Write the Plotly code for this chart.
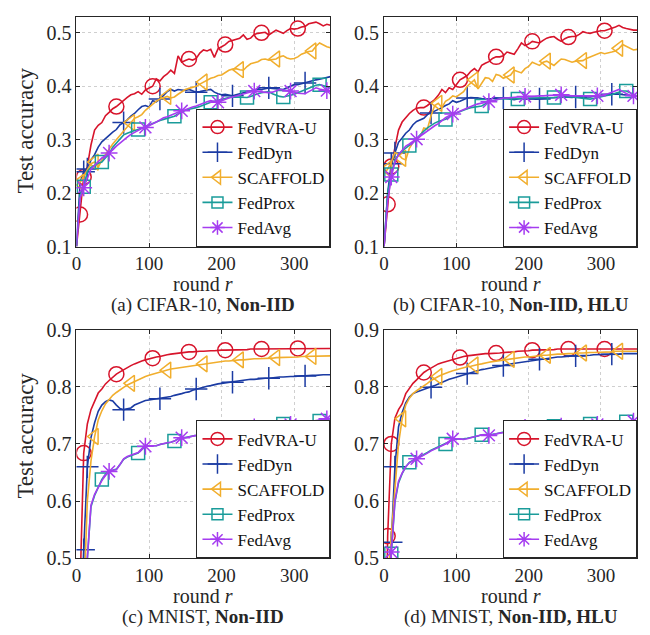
import plotly.graph_objects as go

# ---------------------------------------------------------------- data
rounds = list(range(0, 351, 5))
methods = ["FedVRA-U", "FedDyn", "SCAFFOLD", "FedProx", "FedAvg"]

# (a) CIFAR-10, Non-IID
a_fedvra_u = [0.100, 0.160, 0.230, 0.250, 0.290, 0.318, 0.327, 0.332, 0.345, 0.351,
              0.358, 0.362, 0.368, 0.373, 0.379, 0.384, 0.386, 0.390, 0.385, 0.393,
              0.397, 0.400, 0.414, 0.410, 0.418, 0.423, 0.430, 0.424, 0.457, 0.445,
              0.448, 0.451, 0.449, 0.452, 0.462, 0.468, 0.466, 0.469, 0.454, 0.470,
              0.474, 0.478, 0.484, 0.486, 0.487, 0.490, 0.496, 0.488, 0.490, 0.497,
              0.499, 0.500, 0.501, 0.496, 0.500, 0.505, 0.502, 0.499, 0.504, 0.508,
              0.507, 0.508, 0.511, 0.512, 0.517, 0.518, 0.520, 0.517, 0.513, 0.516,
              0.514]
a_feddyn = [0.100, 0.220, 0.240, 0.245, 0.262, 0.272, 0.286, 0.296, 0.302, 0.309,
            0.314, 0.319, 0.328, 0.332, 0.337, 0.344, 0.349, 0.356, 0.362, 0.364,
            0.361, 0.373, 0.371, 0.376, 0.384, 0.390, 0.394, 0.391, 0.394, 0.393,
            0.392, 0.394, 0.391, 0.389, 0.390, 0.392, 0.393, 0.394, 0.389, 0.386,
            0.384, 0.385, 0.383, 0.382, 0.384, 0.386, 0.388, 0.390, 0.392, 0.394,
            0.395, 0.394, 0.396, 0.397, 0.396, 0.395, 0.394, 0.394, 0.397, 0.400,
            0.403, 0.403, 0.405, 0.406, 0.408, 0.410, 0.412, 0.413, 0.415, 0.416,
            0.418]
a_scaffold = [0.215, 0.220, 0.232, 0.245, 0.255, 0.258, 0.248, 0.262, 0.273, 0.282,
              0.292, 0.300, 0.310, 0.318, 0.325, 0.332, 0.340, 0.343, 0.347, 0.355,
              0.361, 0.367, 0.372, 0.376, 0.379, 0.381, 0.378, 0.380, 0.385, 0.390,
              0.394, 0.396, 0.398, 0.400, 0.404, 0.408, 0.412, 0.415, 0.417, 0.420,
              0.421, 0.425, 0.430, 0.432, 0.433, 0.431, 0.430, 0.437, 0.442, 0.444,
              0.446, 0.450, 0.451, 0.449, 0.450, 0.451, 0.455, 0.457, 0.453, 0.451,
              0.452, 0.455, 0.460, 0.463, 0.465, 0.466, 0.475, 0.481, 0.477, 0.474,
              0.472]
a_fedprox = [0.100, 0.200, 0.212, 0.240, 0.248, 0.252, 0.256, 0.258, 0.266, 0.274,
             0.286, 0.294, 0.302, 0.309, 0.312, 0.315, 0.317, 0.319, 0.322, 0.325,
             0.327, 0.330, 0.333, 0.336, 0.338, 0.340, 0.342, 0.344, 0.348, 0.352,
             0.355, 0.357, 0.358, 0.360, 0.362, 0.365, 0.368, 0.370, 0.372, 0.374,
             0.376, 0.377, 0.379, 0.380, 0.380, 0.379, 0.379, 0.379, 0.381, 0.384,
             0.386, 0.388, 0.389, 0.390, 0.386, 0.383, 0.381, 0.380, 0.381, 0.383,
             0.385, 0.388, 0.390, 0.393, 0.396, 0.399, 0.402, 0.403, 0.401, 0.399,
             0.397]
a_fedavg = [0.100, 0.190, 0.210, 0.228, 0.245, 0.252, 0.260, 0.266, 0.270, 0.275,
            0.281, 0.288, 0.294, 0.299, 0.305, 0.310, 0.314, 0.318, 0.321, 0.323,
            0.326, 0.330, 0.333, 0.337, 0.341, 0.343, 0.346, 0.349, 0.352, 0.354,
            0.356, 0.359, 0.361, 0.363, 0.366, 0.368, 0.371, 0.373, 0.372, 0.370,
            0.373, 0.376, 0.378, 0.380, 0.382, 0.384, 0.386, 0.387, 0.389, 0.391,
            0.390, 0.389, 0.389, 0.388, 0.389, 0.391, 0.394, 0.393, 0.392, 0.391,
            0.389, 0.387, 0.386, 0.386, 0.390, 0.393, 0.397, 0.395, 0.393, 0.392,
            0.390]

# (b) CIFAR-10, Non-IID, HLU
b_fedvra_u = [0.100, 0.179, 0.250, 0.285, 0.318, 0.333, 0.342, 0.349, 0.355, 0.359,
              0.360, 0.360, 0.364, 0.369, 0.375, 0.383, 0.394, 0.388, 0.397, 0.394,
              0.403, 0.412, 0.416, 0.420, 0.428, 0.433, 0.427, 0.439, 0.443, 0.446,
              0.452, 0.455, 0.455, 0.457, 0.464, 0.462, 0.460, 0.470, 0.481, 0.476,
              0.479, 0.484, 0.483, 0.481, 0.486, 0.490, 0.492, 0.493, 0.488, 0.484,
              0.489, 0.492, 0.493, 0.493, 0.497, 0.502, 0.500, 0.499, 0.501, 0.503,
              0.504, 0.504, 0.506, 0.508, 0.511, 0.514, 0.510, 0.508, 0.506, 0.505,
              0.505]
b_feddyn = [0.100, 0.200, 0.255, 0.275, 0.295, 0.303, 0.312, 0.318, 0.328, 0.334,
            0.337, 0.340, 0.347, 0.350, 0.353, 0.357, 0.360, 0.364, 0.367, 0.373,
            0.370, 0.372, 0.375, 0.378, 0.379, 0.379, 0.378, 0.377, 0.376, 0.376,
            0.377, 0.378, 0.377, 0.378, 0.377, 0.376, 0.375, 0.376, 0.377, 0.376,
            0.377, 0.377, 0.376, 0.376, 0.377, 0.378, 0.378, 0.379, 0.378, 0.379,
            0.380, 0.379, 0.379, 0.380, 0.380, 0.379, 0.380, 0.380, 0.381, 0.382,
            0.383, 0.384, 0.385, 0.385, 0.386, 0.385, 0.384, 0.383, 0.383, 0.382,
            0.382]
b_scaffold = [0.236, 0.245, 0.258, 0.276, 0.272, 0.265, 0.262, 0.284, 0.295, 0.302,
              0.306, 0.322, 0.320, 0.345, 0.364, 0.368, 0.360, 0.372, 0.376, 0.382,
              0.380, 0.385, 0.390, 0.400, 0.407, 0.412, 0.395, 0.405, 0.416, 0.415,
              0.409, 0.422, 0.420, 0.415, 0.418, 0.421, 0.430, 0.427, 0.425, 0.433,
              0.437, 0.445, 0.442, 0.439, 0.445, 0.447, 0.443, 0.439, 0.445, 0.451,
              0.450, 0.447, 0.445, 0.447, 0.448, 0.448, 0.452, 0.455, 0.457, 0.460,
              0.463, 0.461, 0.462, 0.464, 0.466, 0.471, 0.478, 0.475, 0.471, 0.468,
              0.469]
b_fedprox = [0.100, 0.200, 0.235, 0.262, 0.272, 0.279, 0.284, 0.289, 0.295, 0.302,
             0.310, 0.316, 0.322, 0.327, 0.331, 0.334, 0.336, 0.338, 0.342, 0.347,
             0.350, 0.353, 0.356, 0.358, 0.360, 0.361, 0.362, 0.363, 0.367, 0.371,
             0.373, 0.375, 0.376, 0.376, 0.376, 0.377, 0.376, 0.376, 0.377, 0.377,
             0.378, 0.378, 0.378, 0.379, 0.379, 0.379, 0.379, 0.379, 0.380, 0.380,
             0.381, 0.381, 0.380, 0.379, 0.378, 0.377, 0.376, 0.376, 0.377, 0.379,
             0.381, 0.382, 0.383, 0.384, 0.387, 0.389, 0.391, 0.391, 0.388, 0.385,
             0.382]
b_fedavg = [0.100, 0.185, 0.230, 0.258, 0.272, 0.281, 0.288, 0.292, 0.297, 0.301,
            0.306, 0.312, 0.317, 0.322, 0.326, 0.330, 0.336, 0.341, 0.345, 0.348,
            0.350, 0.353, 0.357, 0.360, 0.362, 0.365, 0.367, 0.368, 0.370, 0.371,
            0.373, 0.375, 0.377, 0.378, 0.378, 0.379, 0.379, 0.380, 0.380, 0.381,
            0.381, 0.381, 0.382, 0.382, 0.382, 0.383, 0.383, 0.383, 0.384, 0.384,
            0.383, 0.382, 0.382, 0.382, 0.382, 0.382, 0.381, 0.381, 0.382, 0.382,
            0.383, 0.384, 0.386, 0.389, 0.392, 0.394, 0.390, 0.386, 0.383, 0.382,
            0.381]

# (c) MNIST, Non-IID
c_fedvra_u = [0.100, 0.450, 0.684, 0.735, 0.760, 0.776, 0.789, 0.796, 0.805, 0.811,
              0.817, 0.822, 0.826, 0.830, 0.834, 0.837, 0.840, 0.843, 0.845, 0.847,
              0.849, 0.850, 0.852, 0.853, 0.855, 0.856, 0.857, 0.858, 0.859, 0.859,
              0.860, 0.861, 0.861, 0.862, 0.862, 0.862, 0.863, 0.863, 0.863, 0.864,
              0.864, 0.864, 0.864, 0.865, 0.865, 0.865, 0.865, 0.865, 0.866, 0.866,
              0.866, 0.866, 0.866, 0.866, 0.866, 0.866, 0.866, 0.867, 0.867, 0.867,
              0.867, 0.867, 0.867, 0.867, 0.867, 0.867, 0.867, 0.867, 0.867, 0.867,
              0.867]
c_feddyn = [0.100, 0.300, 0.515, 0.660, 0.711, 0.737, 0.757, 0.768, 0.774, 0.777,
            0.775, 0.768, 0.762, 0.760, 0.761, 0.763, 0.768, 0.771, 0.773, 0.776,
            0.777, 0.778, 0.779, 0.779, 0.780, 0.782, 0.783, 0.785, 0.786, 0.788,
            0.790, 0.791, 0.794, 0.796, 0.798, 0.799, 0.801, 0.802, 0.804, 0.805,
            0.806, 0.807, 0.808, 0.808, 0.810, 0.811, 0.812, 0.812, 0.813, 0.813,
            0.814, 0.815, 0.815, 0.815, 0.816, 0.816, 0.817, 0.817, 0.818, 0.818,
            0.818, 0.819, 0.819, 0.819, 0.820, 0.820, 0.820, 0.821, 0.821, 0.821,
            0.821]
c_scaffold = [0.100, 0.200, 0.420, 0.600, 0.670, 0.713, 0.742, 0.758, 0.770, 0.778,
              0.785, 0.790, 0.795, 0.799, 0.803, 0.806, 0.810, 0.813, 0.815, 0.818,
              0.820, 0.822, 0.824, 0.826, 0.828, 0.829, 0.831, 0.832, 0.833, 0.834,
              0.835, 0.836, 0.837, 0.838, 0.839, 0.840, 0.841, 0.842, 0.843, 0.843,
              0.844, 0.845, 0.845, 0.846, 0.846, 0.847, 0.847, 0.848, 0.848, 0.849,
              0.849, 0.849, 0.850, 0.850, 0.850, 0.851, 0.851, 0.851, 0.852, 0.852,
              0.852, 0.852, 0.853, 0.853, 0.853, 0.853, 0.853, 0.854, 0.854, 0.854,
              0.854]
c_fedprox = [0.100, 0.200, 0.350, 0.500, 0.590, 0.610, 0.625, 0.638, 0.647, 0.652,
             0.654, 0.656, 0.664, 0.673, 0.677, 0.679, 0.681, 0.684, 0.691, 0.695,
             0.697, 0.697, 0.697, 0.699, 0.700, 0.702, 0.703, 0.705, 0.709, 0.710,
             0.711, 0.712, 0.713, 0.715, 0.717, 0.719, 0.720, 0.722, 0.723, 0.724,
             0.725, 0.726, 0.727, 0.728, 0.729, 0.728, 0.728, 0.728, 0.729, 0.730,
             0.731, 0.731, 0.732, 0.733, 0.733, 0.734, 0.735, 0.735, 0.735, 0.735,
             0.735, 0.736, 0.736, 0.737, 0.738, 0.738, 0.739, 0.740, 0.741, 0.743,
             0.744]
c_fedavg = [0.100, 0.200, 0.350, 0.500, 0.593, 0.612, 0.625, 0.636, 0.645, 0.652,
            0.654, 0.655, 0.664, 0.674, 0.678, 0.680, 0.682, 0.685, 0.692, 0.696,
            0.697, 0.697, 0.697, 0.699, 0.701, 0.702, 0.703, 0.705, 0.709, 0.711,
            0.711, 0.712, 0.713, 0.715, 0.717, 0.719, 0.720, 0.721, 0.723, 0.724,
            0.725, 0.726, 0.728, 0.729, 0.729, 0.728, 0.728, 0.728, 0.729, 0.730,
            0.731, 0.731, 0.732, 0.733, 0.733, 0.734, 0.735, 0.735, 0.735, 0.734,
            0.735, 0.736, 0.737, 0.737, 0.738, 0.739, 0.740, 0.741, 0.742, 0.744,
            0.745]

# (d) MNIST, Non-IID, HLU
d_fedvra_u = [0.100, 0.539, 0.700, 0.745, 0.760, 0.770, 0.788, 0.798, 0.806, 0.812,
              0.819, 0.825, 0.829, 0.833, 0.837, 0.840, 0.842, 0.844, 0.846, 0.848,
              0.850, 0.851, 0.853, 0.854, 0.855, 0.856, 0.857, 0.857, 0.858, 0.858,
              0.858, 0.859, 0.859, 0.860, 0.860, 0.861, 0.861, 0.862, 0.862, 0.863,
              0.863, 0.864, 0.864, 0.864, 0.865, 0.865, 0.865, 0.865, 0.866, 0.866,
              0.866, 0.866, 0.866, 0.866, 0.866, 0.866, 0.866, 0.866, 0.866, 0.866,
              0.866, 0.866, 0.866, 0.866, 0.866, 0.866, 0.866, 0.866, 0.866, 0.866,
              0.866]
d_feddyn = [0.100, 0.300, 0.528, 0.660, 0.730, 0.755, 0.772, 0.782, 0.788, 0.791,
            0.793, 0.795, 0.797, 0.799, 0.802, 0.805, 0.808, 0.811, 0.813, 0.815,
            0.817, 0.819, 0.821, 0.823, 0.825, 0.827, 0.828, 0.830, 0.831, 0.832,
            0.833, 0.835, 0.836, 0.837, 0.839, 0.840, 0.841, 0.842, 0.843, 0.844,
            0.845, 0.846, 0.847, 0.848, 0.849, 0.850, 0.851, 0.851, 0.852, 0.852,
            0.853, 0.853, 0.854, 0.854, 0.854, 0.855, 0.855, 0.855, 0.856, 0.856,
            0.856, 0.856, 0.857, 0.857, 0.857, 0.857, 0.858, 0.858, 0.858, 0.858,
            0.858]
d_scaffold = [0.100, 0.450, 0.540, 0.620, 0.700, 0.744, 0.768, 0.780, 0.788, 0.793,
              0.797, 0.801, 0.806, 0.811, 0.815, 0.818, 0.821, 0.824, 0.826, 0.828,
              0.830, 0.832, 0.834, 0.835, 0.836, 0.838, 0.839, 0.840, 0.842, 0.843,
              0.844, 0.845, 0.846, 0.847, 0.848, 0.848, 0.849, 0.850, 0.851, 0.852,
              0.852, 0.853, 0.854, 0.854, 0.855, 0.855, 0.856, 0.856, 0.857, 0.857,
              0.858, 0.858, 0.858, 0.859, 0.859, 0.859, 0.860, 0.860, 0.860, 0.860,
              0.861, 0.861, 0.861, 0.861, 0.862, 0.862, 0.862, 0.862, 0.862, 0.862,
              0.862]
d_fedprox = [0.100, 0.300, 0.508, 0.598, 0.632, 0.648, 0.660, 0.668, 0.672, 0.675,
             0.678, 0.681, 0.685, 0.689, 0.692, 0.695, 0.698, 0.700, 0.704, 0.708,
             0.708, 0.708, 0.709, 0.710, 0.711, 0.713, 0.714, 0.716, 0.716, 0.716,
             0.717, 0.718, 0.719, 0.721, 0.722, 0.724, 0.726, 0.727, 0.728, 0.728,
             0.728, 0.728, 0.729, 0.730, 0.730, 0.731, 0.731, 0.731, 0.731, 0.731,
             0.732, 0.732, 0.733, 0.733, 0.734, 0.734, 0.735, 0.735, 0.735, 0.735,
             0.735, 0.735, 0.736, 0.737, 0.737, 0.738, 0.738, 0.739, 0.739, 0.740,
             0.740]
d_fedavg = [0.100, 0.300, 0.511, 0.600, 0.635, 0.649, 0.660, 0.667, 0.671, 0.674,
            0.677, 0.680, 0.684, 0.688, 0.691, 0.694, 0.697, 0.700, 0.705, 0.709,
            0.709, 0.708, 0.708, 0.709, 0.711, 0.712, 0.714, 0.716, 0.716, 0.715,
            0.716, 0.718, 0.719, 0.720, 0.722, 0.723, 0.725, 0.727, 0.728, 0.729,
            0.729, 0.728, 0.728, 0.729, 0.730, 0.730, 0.731, 0.731, 0.731, 0.731,
            0.731, 0.732, 0.732, 0.733, 0.734, 0.734, 0.735, 0.735, 0.735, 0.734,
            0.734, 0.735, 0.736, 0.737, 0.737, 0.738, 0.738, 0.739, 0.739, 0.740,
            0.740]

captions = ["(a) CIFAR-10, <b>Non-IID</b>", "(b) CIFAR-10, <b>Non-IID, HLU</b>",
            "(c) MNIST, <b>Non-IID</b>", "(d) MNIST, <b>Non-IID, HLU</b>"]
x_ticks = [0, 100, 200, 300]
cifar_y_ticks = [0.1, 0.2, 0.3, 0.4, 0.5]
mnist_y_ticks = [0.5, 0.6, 0.7, 0.8, 0.9]

panel_series = [
    [a_fedvra_u, a_feddyn, a_scaffold, a_fedprox, a_fedavg],
    [b_fedvra_u, b_feddyn, b_scaffold, b_fedprox, b_fedavg],
    [c_fedvra_u, c_feddyn, c_scaffold, c_fedprox, c_fedavg],
    [d_fedvra_u, d_feddyn, d_scaffold, d_fedprox, d_fedavg],
]
panel_yticks = [cifar_y_ticks, cifar_y_ticks, mnist_y_ticks, mnist_y_ticks]
panel_yrange = [[0.1, 0.53], [0.1, 0.53], [0.5, 0.9], [0.5, 0.9]]

# ---------------------------------------------------------------- style
FONT = "Liberation Serif"
AX_COLOR = "#262626"
colors = ["#D7142B", "#1B3BA3", "#F1AE2D", "#1A9C9A", "#A53CF0"]
symbols = ["circle-open", "cross-thin-open", "triangle-left-open", "square-open", "asterisk-open"]
msizes = [15, 16, 14, 13, 14]
# rounds at which each curve carries a marker
marker_rounds = [
    [5, 10, 55, 105, 155, 205, 255, 305],
    [10, 15, 65, 115, 165, 215, 265, 315],
    [5, 25, 75, 125, 175, 225, 275, 325],
    [10, 35, 85, 135, 185, 235, 285, 335],
    [10, 45, 95, 145, 195, 245, 295, 345],
]

W, H = 650, 635
col_px = [(72, 328), (382, 637)]
row_px = [(6, 244), (330, 567)]
xtitle_y = [283, 606]
caption_y = [305, 627.5]
ytitle_y = [124, 440]

fig = go.Figure()
layout = dict(
    width=W, height=H, margin=dict(l=0, r=0, t=0, b=0),
    paper_bgcolor="white", plot_bgcolor="white",
    font=dict(family=FONT, size=20, color=AX_COLOR),
    annotations=[],
)

for p in range(4):
    row, col = divmod(p, 2)
    sfx = "" if p == 0 else str(p + 1)
    x0, x1 = col_px[col]
    y0, y1 = row_px[row]
    legend_name = "legend" + sfx

    for k, name in enumerate(methods):
        vals = panel_series[p][k]
        fig.add_trace(go.Scatter(
            x=rounds, y=vals, mode="lines",
            line=dict(color=colors[k], width=1.6),
            xaxis="x" + sfx, yaxis="y" + sfx, showlegend=False, hoverinfo="skip"))
        mx = marker_rounds[k]
        my = [vals[rounds.index(r)] for r in mx]
        fig.add_trace(go.Scatter(
            x=mx, y=my, mode="markers",
            marker=dict(symbol=symbols[k], size=msizes[k], color=colors[k],
                        line=dict(color=colors[k], width=1.5)),
            xaxis="x" + sfx, yaxis="y" + sfx, showlegend=False, hoverinfo="skip"))
        # legend entry (line with marker)
        fig.add_trace(go.Scatter(
            x=[None], y=[None], mode="lines+markers", name=name,
            line=dict(color=colors[k], width=1.6),
            marker=dict(symbol=symbols[k], size=msizes[k] - 2, color=colors[k],
                        line=dict(color=colors[k], width=1.5)),
            xaxis="x" + sfx, yaxis="y" + sfx, legend=legend_name))

    axis_common = dict(
        showline=True, mirror="ticks", linecolor=AX_COLOR, linewidth=1,
        ticks="inside", ticklen=4, tickcolor=AX_COLOR,
        showgrid=True, gridcolor="#cfcfcf", griddash="dot", gridwidth=1,
        zeroline=False,
    )
    layout["xaxis" + sfx] = dict(
        axis_common, domain=[x0 / W, x1 / W], range=[0, 350],
        tickvals=x_ticks, anchor="y" + sfx,
        tickfont=dict(family=FONT, size=19, color=AX_COLOR))
    layout["yaxis" + sfx] = dict(
        axis_common, domain=[1 - y1 / H, 1 - y0 / H], range=panel_yrange[p],
        tickvals=panel_yticks[p], anchor="x" + sfx,
        tickfont=dict(family=FONT, size=20, color=AX_COLOR))
    layout[legend_name] = dict(
        x=x1 / W, xanchor="right", y=1 - y1 / H, yanchor="bottom",
        bgcolor="white", bordercolor=AX_COLOR, borderwidth=1,
        font=dict(family=FONT, size=17, color="#111111"),
        itemwidth=30, tracegroupgap=0)

    cx = (x0 + x1) / 2 / W
    layout["annotations"].append(dict(
        x=cx, y=1 - xtitle_y[row] / H, xref="paper", yref="paper",
        text="round <i>r</i>", showarrow=False, xanchor="center", yanchor="middle",
        font=dict(family=FONT, size=20, color=AX_COLOR)))
    layout["annotations"].append(dict(
        x=cx, y=1 - caption_y[row] / H, xref="paper", yref="paper",
        text=captions[p], showarrow=False, xanchor="center", yanchor="middle",
        font=dict(family=FONT, size=19, color=AX_COLOR)))
    if col == 0:
        layout["annotations"].append(dict(
            x=21 / W, y=1 - ytitle_y[row] / H, xref="paper", yref="paper",
            text="Test accuracy", showarrow=False, textangle=-90,
            xanchor="center", yanchor="middle",
            font=dict(family=FONT, size=23, color=AX_COLOR)))

fig.update_layout(**layout)
fig.write_html("out.html")
